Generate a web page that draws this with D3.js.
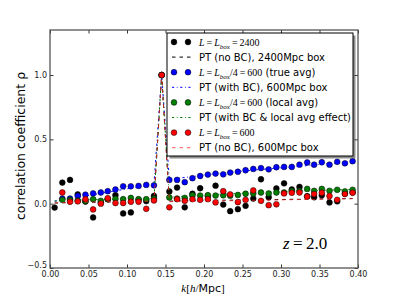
<!DOCTYPE html>
<html>
<head>
<meta charset="utf-8">
<script src="https://cdn.jsdelivr.net/npm/d3@7"></script>
<style>
	body { margin: 0; background: #fff; }
	svg { display: block; font-family: "DejaVu Sans", sans-serif; }
</style>
</head>
<body>
<svg id="chart" width="399" height="299"></svg>
<script>

// k bins [h/Mpc], shared by all series
const k_values = [
	0.006, 0.016, 0.026, 0.036, 0.046, 0.056, 0.066, 0.075, 0.085, 0.095,
	0.105, 0.115, 0.125, 0.135, 0.145, 0.155, 0.165, 0.175, 0.185, 0.195,
	0.205, 0.215, 0.225, 0.234, 0.244, 0.254, 0.264, 0.274, 0.284, 0.294,
	0.304, 0.314, 0.324, 0.334, 0.343, 0.353, 0.363, 0.373, 0.383, 0.393
];

// measured rho (points)
const rho_2400 = [
	-0.03, 0.164, 0.185, 0.072, 0.016, -0.107, 0.01, 0.035, 0.066, -0.076,
	-0.068, 0.03, 0.02, 0.06, 1.0, 0.095, 0.125, -0.028, 0.077, 0.12,
	0.06, 0.14, -0.007, -0.058, -0.043, -0.017, 0.04, 0.19, 0.05, 0.118,
	0.158, 0.11, 0.13, 0.058, 0.05, 0.065, 0.01, 0.018, 0.08, 0.088
];
const rho_600_true = [
	null, 0.04, 0.04, 0.06, 0.07, 0.08, 0.087, 0.097, 0.11, 0.135,
	0.135, 0.138, 0.146, 0.143, 1.0, 0.185, 0.185, 0.167, 0.198, 0.215,
	0.226, 0.234, 0.228, 0.242, 0.248, 0.26, 0.27, 0.277, 0.267, 0.283,
	0.286, 0.286, 0.303, 0.32, 0.303, 0.322, 0.303, 0.325, 0.314, 0.33
];
const rho_600_local = [
	null, 0.03, 0.03, 0.025, 0.02, 0.035, 0.022, 0.035, 0.038, 0.035,
	0.045, 0.035, 0.035, 0.04, 1.0, 0.048, 0.04, 0.045, 0.066, 0.063,
	0.066, 0.063, 0.065, 0.062, 0.068, 0.077, 0.079, 0.087, 0.079, 0.087,
	0.087, 0.1, 0.1, 0.115, 0.1, 0.115, 0.1, 0.108, 0.095, 0.108
];
const rho_600 = [
	null, 0.087, 0.015, 0.018, 0.035, -0.045, 0.0, 0.042, 0.005, 0.005,
	0.015, 0.015, -0.04, 0.025, 1.0, -0.028, 0.035, 0.022, 0.035, 0.03,
	0.035, 0.01, 0.097, 0.072, 0.012, 0.03, 0.103, 0.022, -0.012, -0.005,
	0.08, 0.085, 0.087, 0.055, 0.075, 0.085, 0.06, 0.03, 0.075, 0.085
];

// perturbation theory (lines)
const pt_2400 = [
	0.005, 0.007, 0.008, 0.009, 0.01, 0.011, 0.012, 0.013, 0.014, 0.015,
	0.016, 0.017, 0.018, 0.019, 1.0, 0.02, 0.021, 0.022, 0.023, 0.024,
	0.025, 0.026, 0.027, 0.027, 0.028, 0.029, 0.03, 0.031, 0.031, 0.032,
	0.033, 0.034, 0.034, 0.035, 0.036, 0.037, 0.037, 0.038, 0.039, 0.04
];
const pt_600_bc = [
	0.02, 0.03, 0.04, 0.05, 0.06, 0.07, 0.08, 0.09, 0.1, 0.11,
	0.12, 0.13, 0.14, 0.15, 1.0, 0.19, 0.197, 0.204, 0.211, 0.218,
	0.225, 0.231, 0.237, 0.243, 0.249, 0.255, 0.261, 0.266, 0.271, 0.276,
	0.281, 0.286, 0.291, 0.296, 0.301, 0.306, 0.311, 0.316, 0.321, 0.326
];
const pt_600_bc_local = [
	0.02, 0.025, 0.027, 0.029, 0.03, 0.031, 0.032, 0.033, 0.034, 0.035,
	0.036, 0.037, 0.038, 0.039, 1.0, 0.05, 0.054, 0.058, 0.061, 0.064,
	0.068, 0.071, 0.074, 0.077, 0.08, 0.082, 0.084, 0.086, 0.088, 0.09,
	0.094, 0.096, 0.098, 0.1, 0.102, 0.104, 0.106, 0.107, 0.109, 0.11
];
const pt_600 = [
	0.005, 0.008, 0.01, 0.011, 0.012, 0.013, 0.014, 0.015, 0.016, 0.017,
	0.018, 0.019, 0.02, 0.021, 1.0, 0.015, 0.016, 0.017, 0.018, 0.019,
	0.02, 0.021, 0.022, 0.023, 0.024, 0.025, 0.026, 0.027, 0.028, 0.029,
	0.03, 0.031, 0.032, 0.033, 0.034, 0.035, 0.036, 0.037, 0.038, 0.039
];

const x_ticks = [0, 0.05, 0.1, 0.15, 0.2, 0.25, 0.3, 0.35, 0.4];
const y_ticks = [-0.5, 0, 0.5, 1.0];

const legend_labels = [
	'$L=L_{box}=2400$',
	'PT (no BC), 2400Mpc box',
	'$L=L_{box}/4=600$ (true avg)',
	'PT (with BC), 600Mpc box',
	'$L=L_{box}/4=600$ (local avg)',
	'PT (with BC & local avg effect)',
	'$L=L_{box}=600$',
	'PT (no BC), 600Mpc box'
];

const DASHED = '3.5,4';
const DASHDOT = '2.2,2.6,0.8,2.6';
const MATH_FONT = '"Liberation Serif", "DejaVu Serif", serif';

const series = [
	{type: 'points', values: rho_2400, color: '#000000'},
	{type: 'line', values: pt_2400, color: '#000000', dash: DASHED, opacity: 1},
	{type: 'points', values: rho_600_true, color: '#0000ff'},
	{type: 'line', values: pt_600_bc, color: '#0000ff', dash: DASHDOT, opacity: 1},
	{type: 'points', values: rho_600_local, color: '#007f00'},
	{type: 'line', values: pt_600_bc_local, color: '#007f00', dash: DASHDOT, opacity: 1},
	{type: 'points', values: rho_600, color: '#ff0000'},
	{type: 'line', values: pt_600, color: '#ff2020', dash: DASHED, opacity: 0.75}
];

const margin = {left: 50, right: 41, top: 30, bottom: 31};
const width = 399;
const height = 299;

const svg = d3.select('#chart');

const xScale = d3.scaleLinear().domain([0, 0.4]).range([margin.left, width - margin.right]);
const yScale = d3.scaleLinear().domain([-0.5, 1.35]).range([height - margin.bottom, margin.top]);

// Writes a label with $...$ math parts into a text element.
function appendLabel(text, label, size) {
	label.split('$').forEach((part, index) => {
		if (index % 2 === 0) {
			if (part !== '') {
				text.append('tspan').text(part);
			}
			return;
		}

		const tokens = part.match(/_\{[^}]*\}|[A-Za-z]|[0-9.]+|[=\/\[\]]/g);
		let shifted = 0;

		tokens.forEach(token => {
			const tspan = text.append('tspan').attr('font-family', MATH_FONT);

			if (shifted !== 0) {
				tspan.attr('dy', -shifted);
				shifted = 0;
			}

			if (token.startsWith('_')) {
				shifted = size * 0.3;
				tspan
					.attr('dy', shifted)
					.attr('font-style', 'italic')
					.attr('font-size', size * 0.7)
					.text(token.slice(2, -1));
			}
			else if (/[A-Za-z]/.test(token)) {
				tspan.attr('font-style', 'italic').text(token);
			}
			else if (token === '=') {
				tspan.text('\u2009=\u2009');
			}
			else {
				tspan.text(token);
			}
		});

		if (shifted !== 0) {
			text.append('tspan').attr('dy', -shifted).text('');
		}
	});
}

// axes
const x_axis = d3.axisBottom(xScale)
	.tickValues(x_ticks)
	.tickFormat(d3.format('.2f'))
	.tickSizeInner(-3.5)
	.tickSizeOuter(0)
	.tickPadding(3);

const y_axis = d3.axisLeft(yScale)
	.tickValues(y_ticks)
	.tickFormat(d3.format('.1f'))
	.tickSizeInner(-3.5)
	.tickSizeOuter(0)
	.tickPadding(3);

svg.append('g')
	.attr('transform', `translate(0,${height - margin.bottom})`)
	.call(x_axis)
	.call(g => g.select('.domain').remove())
	.call(g => g.selectAll('text').attr('font-size', 8).attr('font-family', '"DejaVu Sans"').attr('fill', '#222'));

svg.append('g')
	.attr('transform', `translate(${margin.left},0)`)
	.call(y_axis)
	.call(g => g.select('.domain').remove())
	.call(g => g.selectAll('text').attr('font-size', 8).attr('font-family', '"DejaVu Sans"').attr('fill', '#222'));

// the lowest y label sits just above the x labels
svg.selectAll('.tick text')
	.filter(d => d === -0.5)
	.attr('dy', '-0.05em');

svg.append('g')
	.attr('transform', `translate(0,${margin.top})`)
	.call(d3.axisTop(xScale).tickValues(x_ticks).tickFormat('').tickSizeInner(-3.5).tickSizeOuter(0))
	.call(g => g.select('.domain').remove());

svg.append('g')
	.attr('transform', `translate(${width - margin.right},0)`)
	.call(d3.axisRight(yScale).tickValues(y_ticks).tickFormat('').tickSizeInner(-3.5).tickSizeOuter(0))
	.call(g => g.select('.domain').remove());

svg.selectAll('.tick line').attr('stroke', '#333');

// data
const plot = svg.append('g');

const lineGenerator = d3.line()
	.x((d, i) => xScale(k_values[i]))
	.y(d => yScale(d))
	.defined(d => d !== null);

series.forEach(s => {
	if (s.type === 'line') {
		plot.append('path')
			.attr('d', lineGenerator(s.values))
			.attr('fill', 'none')
			.attr('stroke', s.color)
			.attr('stroke-width', 1)
			.attr('stroke-opacity', s.opacity)
			.attr('stroke-dasharray', s.dash);
	}
	else {
		plot.append('g')
			.selectAll('circle')
			.data(s.values.map((v, i) => ({k: k_values[i], v})).filter(d => d.v !== null))
			.join('circle')
			.attr('cx', d => xScale(d.k))
			.attr('cy', d => yScale(d.v))
			.attr('r', 2.9)
			.attr('fill', s.color)
			.attr('stroke', '#000')
			.attr('stroke-width', 0.5);
	}
});

// frame
svg.append('rect')
	.attr('x', margin.left)
	.attr('y', margin.top)
	.attr('width', width - margin.left - margin.right)
	.attr('height', height - margin.top - margin.bottom)
	.attr('fill', 'none')
	.attr('stroke', '#555')
	.attr('stroke-width', 1.3);

// legend
const legend = {x: 167, y: 33, w: 186, h: 123, row: 15.1, first: 42};

svg.append('rect')
	.attr('x', legend.x + 2.5)
	.attr('y', legend.y + 2.5)
	.attr('width', legend.w)
	.attr('height', legend.h)
	.attr('fill', '#444')
	.attr('fill-opacity', 0.6);

svg.append('rect')
	.attr('x', legend.x)
	.attr('y', legend.y)
	.attr('width', legend.w)
	.attr('height', legend.h)
	.attr('fill', '#fff')
	.attr('stroke', '#000')
	.attr('stroke-width', 1);

series.forEach((s, i) => {
	const y = legend.first + i * legend.row;

	if (s.type === 'line') {
		svg.append('line')
			.attr('x1', 172)
			.attr('x2', 191)
			.attr('y1', y)
			.attr('y2', y)
			.attr('stroke', s.color)
			.attr('stroke-width', 1)
			.attr('stroke-opacity', s.opacity)
			.attr('stroke-dasharray', s.dash);
	}
	else {
		[174, 188].forEach(x => {
			svg.append('circle')
				.attr('cx', x)
				.attr('cy', y)
				.attr('r', 2.9)
				.attr('fill', s.color)
				.attr('stroke', '#000')
				.attr('stroke-width', 0.5);
		});
	}

	const text = svg.append('text')
		.attr('x', 199)
		.attr('y', y + 3.5)
		.attr('font-size', 10)
		.attr('fill', '#000');

	appendLabel(text, legend_labels[i], 10);
});

// redshift label
const z_label = svg.append('text')
	.attr('x', 283)
	.attr('y', 249)
	.attr('font-size', 17)
	.attr('fill', '#000');

appendLabel(z_label, '$z=2.0$', 17);

// axis labels
const x_label = svg.append('text')
	.attr('x', 203)
	.attr('y', 292)
	.attr('text-anchor', 'middle')
	.attr('font-size', 11)
	.attr('fill', '#000');

appendLabel(x_label, '$k[h/$Mpc$]$', 11);

svg.append('text')
	.attr('transform', 'translate(25,146) rotate(-90)')
	.attr('text-anchor', 'middle')
	.attr('font-size', 12.5)
	.attr('fill', '#000')
	.text('correlation coefficient \u03c1');

</script>
</body>
</html>
